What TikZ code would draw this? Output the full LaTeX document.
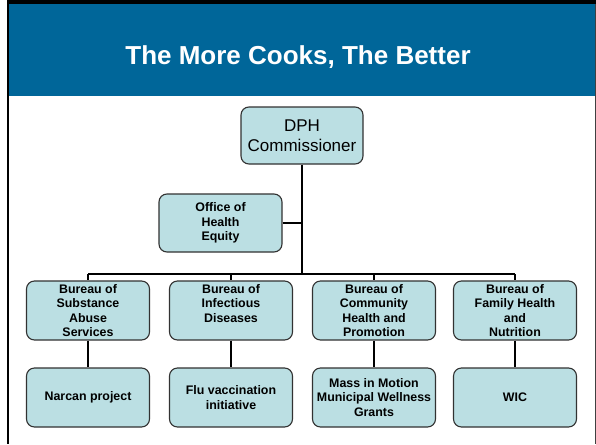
\documentclass[tikz,border=0pt]{standalone}
\usepackage{fontspec}
\setmainfont{Liberation Sans}
\definecolor{band}{RGB}{0,102,153}
\definecolor{boxfill}{RGB}{187,223,227}
\definecolor{boxline}{RGB}{50,50,50}
\begin{document}
\begin{tikzpicture}[x=1pt,y=-1pt,
  orgbox/.style={draw=boxline, line width=1.1pt, fill=boxfill, rounded corners=8pt,
    minimum width=123pt, minimum height=59pt, align=center, inner sep=2pt,
    font=\fontsize{12.4}{14.6}\selectfont\bfseries},
  conn/.style={draw=black, line width=1.8pt}]
\useasboundingbox (0,0) rectangle (596,444);
\fill[white] (0,0) rectangle (596,444);
% frame
\fill[band] (9,4) rectangle (596,96);
\fill[black] (7,0) rectangle (596,4);
\fill[black] (6.5,0) rectangle (9,444);
\fill[black!75] (594.5,4) rectangle (596,444);
\node[text=white, font=\fontsize{26}{30}\selectfont\bfseries, anchor=base] (title) at (298,64) {The More Cooks, The Better};
% nodes
\node[orgbox, minimum width=122pt, minimum height=57pt, font=\fontsize{17}{20}\selectfont] (dph) at (302,135.5) {DPH\\Commissioner};
\node[orgbox, minimum height=58pt] (ohe) at (220.5,223) {Office of\\Health\\Equity};
\node[orgbox] (b1) at (88,310.5) {Bureau of\\Substance\\Abuse\\Services};
\node[orgbox] (b2) at (231,310.5) {Bureau of\\Infectious\\Diseases\\\mbox{}};
\node[orgbox] (b3) at (374,310.5) {Bureau of\\Community\\Health and\\Promotion};
\node[orgbox] (b4) at (515,310.5) {Bureau of\\Family Health\\and\\Nutrition};
\node[orgbox] (p1) at (88,397.5) {Narcan project};
\node[orgbox] (p2) at (231,397.5) {Flu vaccination\\initiative};
\node[orgbox] (p3) at (374,397.5) {Mass in Motion\\Municipal Wellness\\Grants};
\node[orgbox] (p4) at (515,397.5) {WIC};
% connectors
\coordinate (bus) at (302,274);
\coordinate (ohej) at (302,223);
\draw[conn] (dph.south) -- (bus);
\draw[conn] (ohe.east) -- (ohej);
\draw[conn] (b1.north |- bus) -- (b4.north |- bus);
\foreach \b in {b1,b2,b3,b4}{
  \draw[conn] (\b.north |- bus) -- (\b.north);
}
\draw[conn] (b1) -- (p1);
\draw[conn] (b2) -- (p2);
\draw[conn] (b3) -- (p3);
\draw[conn] (b4) -- (p4);
\end{tikzpicture}
\end{document}
